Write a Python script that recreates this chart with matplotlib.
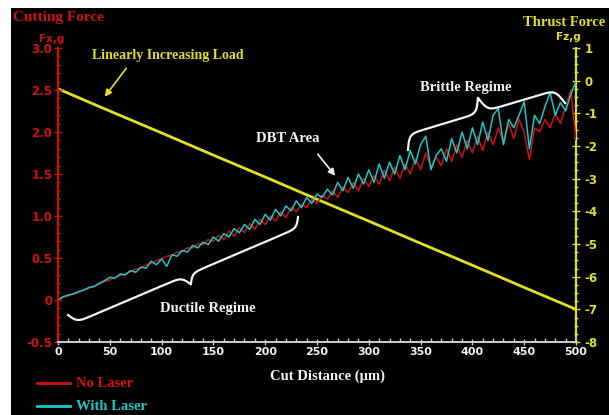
import matplotlib
matplotlib.use('Agg')
import matplotlib.pyplot as plt
import numpy as np
from matplotlib.lines import Line2D
from matplotlib.patches import Rectangle
from matplotlib.ticker import FixedLocator, FixedFormatter, MultipleLocator

# ---- data ----
dist = np.arange(0, 505, 5)  # cut distance, um

no_laser = [0.00, 0.03, 0.05, 0.08, 0.09, 0.12, 0.14, 0.17, 0.19, 0.22,
            0.24, 0.27, 0.29, 0.31, 0.34, 0.37, 0.38, 0.42, 0.44, 0.47,
            0.49, 0.52, 0.53, 0.57, 0.58, 0.62, 0.62, 0.67, 0.66, 0.72,
            0.70, 0.77, 0.72, 0.82, 0.76, 0.86, 0.80, 0.91, 0.84, 0.96,
            0.90, 1.00, 0.94, 1.05, 0.98, 1.10, 1.05, 1.14, 1.10, 1.20,
            1.15, 1.25, 1.20, 1.30, 1.22, 1.35, 1.28, 1.40, 1.30, 1.45,
            1.35, 1.48, 1.38, 1.55, 1.42, 1.58, 1.45, 1.62, 1.50, 1.68,
            1.55, 1.75, 1.58, 1.70, 1.60, 1.80, 1.65, 1.85, 1.70, 1.90,
            1.75, 1.95, 1.78, 2.00, 1.85, 2.05, 1.88, 2.10, 1.92, 2.15,
            2.00, 1.67, 2.05, 2.00, 2.15, 2.05, 2.22, 2.10, 2.30, 2.50,
            1.91]

with_laser = [0.00, 0.04, 0.06, 0.07, 0.10, 0.12, 0.15, 0.16, 0.20, 0.23,
              0.27, 0.26, 0.31, 0.30, 0.35, 0.33, 0.39, 0.38, 0.46, 0.42,
              0.49, 0.40, 0.54, 0.52, 0.59, 0.57, 0.65, 0.62, 0.69, 0.66,
              0.75, 0.70, 0.79, 0.75, 0.85, 0.80, 0.90, 0.84, 0.96, 0.90,
              1.02, 0.95, 1.08, 1.00, 1.12, 1.06, 1.18, 1.10, 1.22, 1.15,
              1.26, 1.22, 1.32, 1.25, 1.40, 1.30, 1.46, 1.33, 1.50, 1.38,
              1.55, 1.40, 1.62, 1.45, 1.64, 1.50, 1.72, 1.55, 1.78, 1.62,
              1.85, 1.95, 1.55, 1.72, 1.80, 1.65, 1.92, 1.75, 2.00, 1.80,
              2.05, 1.85, 2.12, 1.90, 2.20, 2.28, 1.85, 2.15, 2.05, 2.20,
              2.36, 1.80, 2.20, 2.10, 2.30, 2.47, 2.20, 2.35, 2.25, 2.45,
              2.60]

load_dist = [0, 50, 100, 150, 200, 250, 300, 350, 400, 450, 500]
thrust = [-0.25, -0.93, -1.60, -2.28, -2.95, -3.63, -4.30, -4.98, -5.65, -6.33, -7.00]

left_ticks = [3.0, 2.5, 2.0, 1.5, 1.0, 0.5, 0.0, -0.5]
left_labels = ['3.0', '2.5', '2.0', '1.5', '1.0', '0.5', '0', '-0.5']
right_ticks = [1, 0, -1, -2, -3, -4, -5, -6, -7, -8]
right_labels = ['1', '0', '-1', '-2', '-3', '-4', '-5', '-6', '-7', '-8']
x_ticks = [0, 50, 100, 150, 200, 250, 300, 350, 400, 450, 500]

RED = '#d01010'
CYAN = '#18c8cc'
YEL = '#e2e020'
WHITE = '#f2f2f2'
GREY = '#c8c8c8'

W, H = 609, 415
plt.rcParams['font.family'] = ['Liberation Sans Narrow', 'DejaVu Sans']
plt.rcParams['font.weight'] = 'bold'
SERIF = 'Liberation Serif'

fig = plt.figure(figsize=(W / 100, H / 100), dpi=100, facecolor='white')
fig.add_artist(Rectangle((11 / W, 0), 1 - 11 / W, 1 - 8 / H, transform=fig.transFigure,
                         facecolor='black', edgecolor='none', zorder=-10))

ax = fig.add_axes([58 / W, 1 - 342 / H, 518 / W, 294 / H])
ax2 = ax.twinx()
ax.set_zorder(ax2.get_zorder() + 1)
ax.patch.set_visible(False)
ax2.patch.set_visible(False)

ax.plot(dist, no_laser, color=RED, lw=1.1)
ax.plot(dist, with_laser, color=CYAN, lw=1.1)
ax2.plot(load_dist, thrust, color=YEL, lw=2.0)

ax.set_xlim(0, 500)
ax.set_ylim(-0.5, 3.0)
ax2.set_ylim(-8, 1)

for a in (ax, ax2):
    a.spines['top'].set_visible(False)
ax.spines['right'].set_visible(False)
ax2.spines['left'].set_visible(False)
ax2.spines['bottom'].set_visible(False)
ax.spines['left'].set_color(RED)
ax.spines['left'].set_linewidth(1.5)
ax2.spines['right'].set_color(YEL)
ax2.spines['right'].set_linewidth(1.5)
ax.spines['bottom'].set_color(GREY)
ax.spines['bottom'].set_linewidth(1.5)

ax.yaxis.set_major_locator(FixedLocator(left_ticks))
ax.yaxis.set_major_formatter(FixedFormatter(left_labels))
ax.yaxis.set_minor_locator(MultipleLocator(0.1))
ax2.yaxis.set_major_locator(FixedLocator(right_ticks))
ax2.yaxis.set_major_formatter(FixedFormatter(right_labels))
ax2.yaxis.set_minor_locator(MultipleLocator(0.25))
ax.xaxis.set_major_locator(FixedLocator(x_ticks))
ax.xaxis.set_minor_locator(MultipleLocator(10))

ax.tick_params(axis='y', which='major', colors=RED, labelsize=8.5, direction='inout', length=6, width=1, pad=1)
ax.tick_params(axis='y', which='minor', colors=RED, direction='inout', length=3, width=1)
ax2.tick_params(axis='y', which='major', colors=YEL, labelsize=8.5, direction='inout', length=6, width=1, pad=3)
ax2.tick_params(axis='y', which='minor', colors=YEL, direction='inout', length=3, width=1)
ax.tick_params(axis='x', which='major', colors=GREY, labelsize=8, direction='inout', length=5, width=1, pad=1)
ax.tick_params(axis='x', which='minor', colors=GREY, direction='in', length=3, width=1)
ax.tick_params(axis='x', labelcolor=WHITE)


def px(x, y):
    return x / W, 1 - y / H


# titles and axis names
fig.text(*px(13, 18), 'Cutting Force', color=RED, fontsize=11, family=SERIF, weight='bold', va='center')
fig.text(*px(605, 23), 'Thrust Force', color=YEL, fontsize=10.5, family=SERIF, weight='bold', va='center', ha='right')
fig.text(*px(52, 39), 'Fx,g', color=RED, fontsize=7.5, weight='bold', va='center', ha='center')
fig.text(*px(568, 37), 'Fz,g', color=YEL, fontsize=7.5, weight='bold', va='center', ha='center')
fig.text(*px(327, 376), 'Cut Distance (\u00b5m)', color=WHITE, fontsize=10.5, family=SERIF, weight='bold',
         va='center', ha='center')

# legend
fig.add_artist(Line2D([37 / W, 70 / W], [1 - 383 / H] * 2, color=RED, lw=2, transform=fig.transFigure))
fig.text(*px(76, 383), 'No Laser', color=RED, fontsize=10.5, family=SERIF, weight='bold', va='center')
fig.add_artist(Line2D([37 / W, 70 / W], [1 - 406 / H] * 2, color=CYAN, lw=2, transform=fig.transFigure))
fig.text(*px(76, 406), 'With Laser', color=CYAN, fontsize=10.5, family=SERIF, weight='bold', va='center')

# annotations
fig.text(*px(92, 55), 'Linearly Increasing Load', color=YEL, fontsize=10, family=SERIF, weight='bold', va='center')
ax.annotate('', xy=px(103, 99), xytext=px(128, 66), xycoords='figure fraction', textcoords='figure fraction',
            arrowprops=dict(arrowstyle='-|>', color=YEL, lw=1.2, mutation_scale=10))
fig.text(*px(288, 138), 'DBT Area', color=WHITE, fontsize=10.5, family=SERIF, weight='bold', va='center', ha='center')
ax.annotate('', xy=px(337, 178), xytext=px(316, 152), xycoords='figure fraction', textcoords='figure fraction',
            arrowprops=dict(arrowstyle='-|>', color=WHITE, lw=1.2, mutation_scale=10))
fig.text(*px(466, 88), 'Brittle Regime', color=WHITE, fontsize=10.5, family=SERIF, weight='bold',
         va='center', ha='center')
fig.text(*px(208, 308), 'Ductile Regime', color=WHITE, fontsize=10.5, family=SERIF, weight='bold',
         va='center', ha='center')


def brace(p0, p1, h, side):
    a = np.array([p0[0], H - p0[1]], float)
    b = np.array([p1[0], H - p1[1]], float)
    L = np.hypot(*(b - a))
    d = (b - a) / L
    n = np.array([-d[1], d[0]]) * side
    u = np.linspace(0, L / 2, 150)
    beta = 0.35
    half = 1 / (1 + np.exp(-beta * (u - u[0]))) + 1 / (1 + np.exp(-beta * (u - u[-1])))
    uu = np.concatenate([u, u + L / 2])
    vv = (np.concatenate([half, half[::-1]]) - 0.5) * h
    pts = a[None, :] + uu[:, None] * d[None, :] + vv[:, None] * n[None, :]
    fig.add_artist(Line2D(pts[:, 0] / W, pts[:, 1] / H, color=WHITE, lw=1.6, transform=fig.transFigure))


brace((68, 315), (298, 217), 20, -1)
brace((408, 150), (565, 103), 30, 1)

fig.savefig('out.png', dpi=100, facecolor=fig.get_facecolor())
